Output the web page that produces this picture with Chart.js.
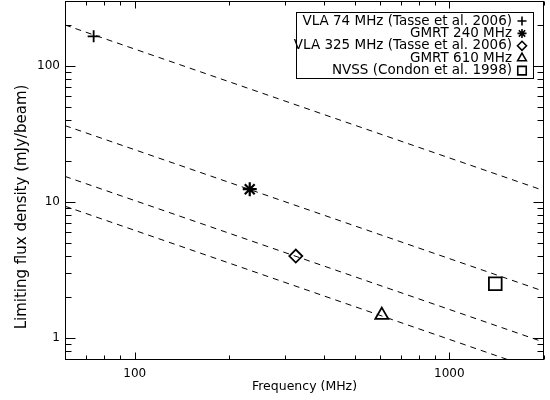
<!DOCTYPE html>
<html><head><meta charset="utf-8">
<script src="https://cdn.jsdelivr.net/npm/chart.js@4.4.0/dist/chart.umd.min.js"></script>
<style>html,body{margin:0;padding:0;background:#fff}#wrap{width:550px;height:400px}</style>
</head><body><div id="wrap"><canvas id="c" width="550" height="400"></canvas></div>
<script>
// ---- data ----
const surveyLabels = ['VLA 74 MHz (Tasse et al. 2006)', 'GMRT 240 MHz', 'VLA 325 MHz (Tasse et al. 2006)', 'GMRT 610 MHz', 'NVSS (Condon et al. 1998)'];
const surveyFreqs = [74, 232, 325, 610, 1400];          // MHz
const surveyLimits = [165, 12.4, 4.0, 1.47, 2.5];       // mJy/beam
const markerStyles = ['cross', 'star', 'rectRot', 'triangle', 'rect'];
const lineFreqs = [60, 2000];                           // MHz (ends of the dashed lines)
const lineA = [200, 12.1];
const lineB = [36.4, 2.2];
const lineC = [15.4, 0.93];
const lineD = [9.3, 0.56];
const xMajorTicks = [100, 1000];
const xMinorTicks = [60, 70, 80, 90, 200, 300, 400, 500, 600, 700, 800, 900, 2000];
const yMajorTicks = [1, 10, 100];
const yMinorTicks = [0.7, 0.8, 0.9, 2, 3, 4, 5, 6, 7, 8, 9, 20, 30, 40, 50, 60, 70, 80, 90, 200, 300];
const xTitle = 'Frequency (MHz)';
const yTitle = 'Limiting flux density (mJy/beam)';

// ---- styling ----
const FONT = 'DejaVu Sans';
const markerRadius = [6, 7, 6.5, 7.5, 9];
const legendRadius = [4.5, 4.5, 4.5, 5, 6];

const toPts = (xs, ys) => xs.map((v, i) => ({x: v, y: ys[i]}));
const dashLine = vals => ({
  data: toPts(lineFreqs, vals), showLine: true, borderColor: '#000', borderWidth: 1,
  borderDash: [6, 5], pointRadius: 0, fill: false
});
const datasets = [dashLine(lineA), dashLine(lineB), dashLine(lineC), dashLine(lineD)];
surveyLabels.forEach((lab, i) => {
  datasets.push({
    label: lab, data: [{x: surveyFreqs[i], y: surveyLimits[i]}], showLine: false,
    pointStyle: markerStyles[i], pointRadius: markerRadius[i], pointBorderWidth: i === 1 ? 2.2 : 1.8,
    pointBorderColor: '#000', pointBackgroundColor: 'rgba(0,0,0,0)', clip: false
  });
});

const framePlugin = {
  id: 'frame',
  afterDatasetsDraw(chart) {
    const {ctx, chartArea: {left, right, top, bottom}, scales: {x, y}} = chart;
    ctx.save();
    ctx.strokeStyle = '#000'; ctx.lineWidth = 1;
    const L = Math.round(left) + 0.5, R = Math.round(right) - 0.5, T = Math.round(top) + 0.5, B = Math.round(bottom) + 0.5;
    ctx.strokeRect(L, T, R - L, B - T);
    ctx.beginPath();
    const xt = (v, len) => { const p = Math.round(x.getPixelForValue(v)) + 0.5;
      ctx.moveTo(p, B); ctx.lineTo(p, B - len); ctx.moveTo(p, T); ctx.lineTo(p, T + len); };
    const yt = (v, len) => { const p = Math.round(y.getPixelForValue(v)) + 0.5;
      ctx.moveTo(L, p); ctx.lineTo(L + len, p); ctx.moveTo(R, p); ctx.lineTo(R - len, p); };
    xMajorTicks.forEach(v => xt(v, 7)); xMinorTicks.forEach(v => xt(v, 4));
    yMajorTicks.forEach(v => yt(v, 10)); yMinorTicks.forEach(v => yt(v, 6));
    ctx.stroke();
    // y-axis title
    ctx.fillStyle = '#000';
    ctx.font = '15px "' + FONT + '"';
    ctx.textAlign = 'center'; ctx.textBaseline = 'middle';
    ctx.translate(22, 207); ctx.rotate(-Math.PI / 2);
    ctx.fillText(yTitle, 0, 0);
    ctx.restore();
  },
  afterDraw(chart) {
    const {ctx} = chart;
    ctx.save();
    ctx.strokeStyle = '#000'; ctx.fillStyle = '#000'; ctx.lineWidth = 1;
    ctx.strokeRect(296.5, 12.5, 237, 66);
    ctx.font = '13.5px "' + FONT + '"';
    ctx.textAlign = 'right'; ctx.textBaseline = 'middle';
    const dp = Chart.helpers && Chart.helpers.drawPoint;
    surveyLabels.forEach((lab, i) => {
      const yy = 21 + i * 12.4;
      ctx.fillText(lab, 512, yy);
      if (dp) {
        ctx.lineWidth = 1.6;
        ctx.fillStyle = 'rgba(0,0,0,0)';
        dp(ctx, {pointStyle: markerStyles[i], radius: legendRadius[i], rotation: 0, borderWidth: 1.6}, 522, yy);
        ctx.fillStyle = '#000';
      }
    });
    ctx.restore();
  }
};

new Chart(document.getElementById('c'), {
  type: 'scatter',
  data: {datasets},
  plugins: [framePlugin],
  options: {
    responsive: false, animation: false, events: [],
    layout: {autoPadding: false, padding: {top: 1, right: 6, left: 0, bottom: 0}},
    plugins: {legend: {display: false}, tooltip: {enabled: false}},
    scales: {
      x: {
        type: 'logarithmic', min: 60, max: 2000, position: 'bottom',
        grid: {display: false, drawTicks: false}, border: {display: false},
        afterBuildTicks: s => { s.ticks = xMajorTicks.map(v => ({value: v})); },
        afterFit: s => { s.height = 41; s.paddingLeft = 0; s.paddingRight = 0; s.paddingTop = 0; s.paddingBottom = 0; },
        ticks: {color: '#000', font: {family: FONT, size: 12}, padding: 8, maxRotation: 0, autoSkip: false,
          callback: v => String(v)},
        title: {display: true, text: xTitle, color: '#000', font: {family: FONT, size: 12.5}, padding: {top: 0, bottom: 6}}
      },
      y: {
        type: 'logarithmic', min: 0.7, max: 300, position: 'left',
        grid: {display: false, drawTicks: false}, border: {display: false},
        afterBuildTicks: s => { s.ticks = yMajorTicks.map(v => ({value: v})); },
        afterFit: s => { s.width = 65; s.paddingLeft = 0; s.paddingRight = 0; s.paddingTop = 0; s.paddingBottom = 0; },
        ticks: {color: '#000', font: {family: FONT, size: 12}, padding: 5, autoSkip: false,
          callback: v => String(v)},
        title: {display: false}
      }
    }
  }
});
</script>
</body></html>
